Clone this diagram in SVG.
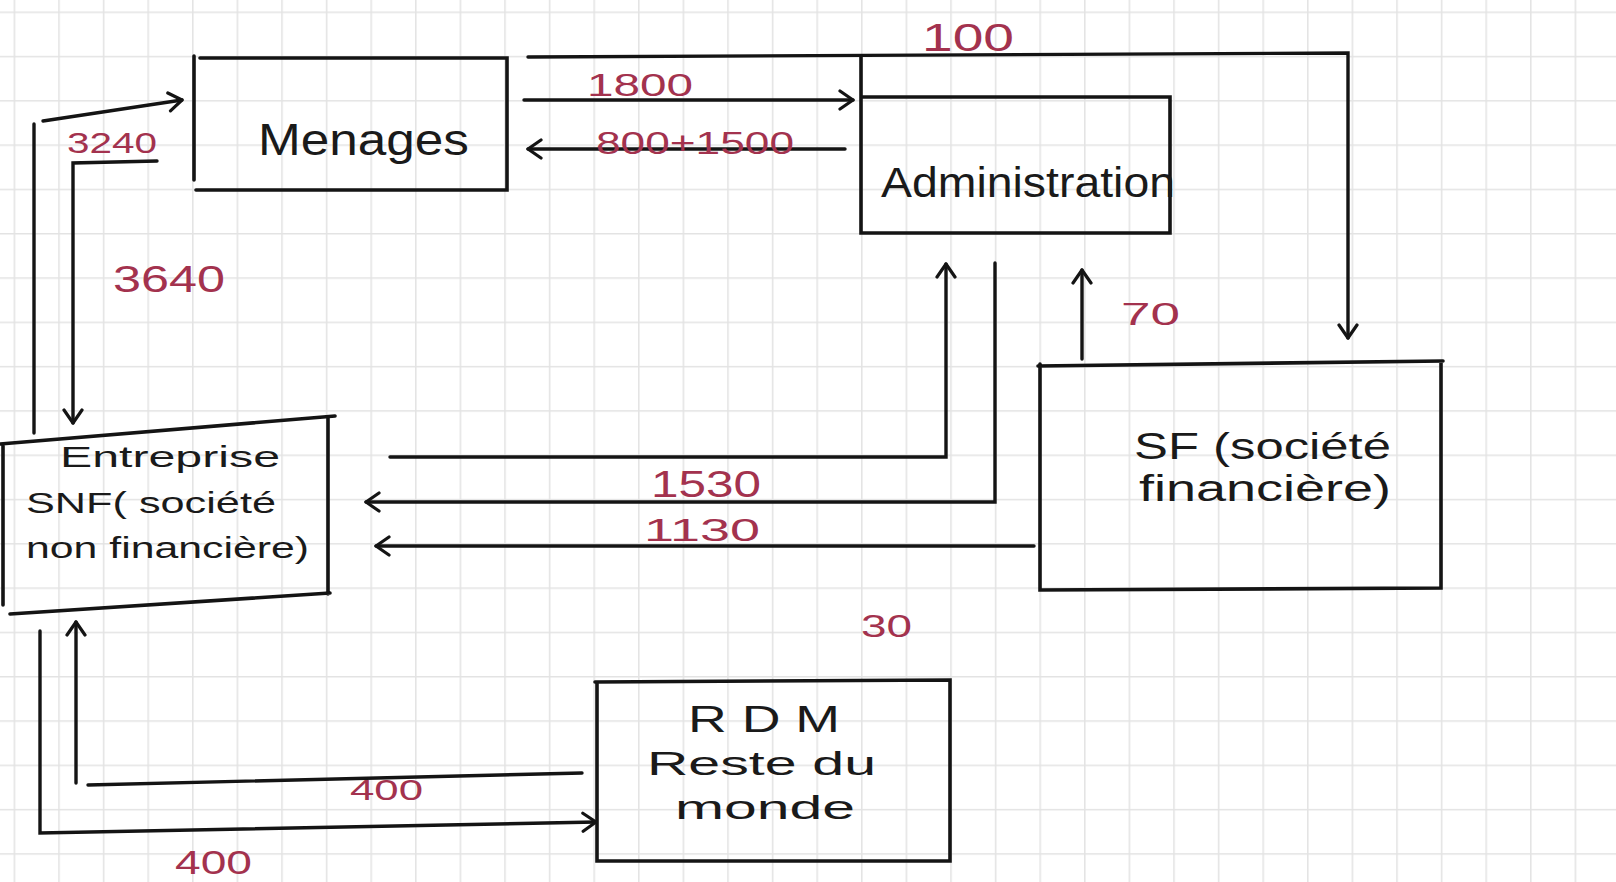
<svg xmlns="http://www.w3.org/2000/svg" width="1616" height="882" viewBox="0 0 1616 882">
<style>
.box{fill:none;stroke:#141414;stroke-width:3.6;stroke-linejoin:miter;stroke-linecap:round}
.con{fill:none;stroke:#141414;stroke-width:3.4;stroke-linecap:round;stroke-linejoin:miter}
.nt{font-family:"Liberation Sans",Arial,sans-serif;fill:#1a1a1a}
.lbl{font-family:"Liberation Sans",Arial,sans-serif;fill:#a3324e}
</style>
<defs>
<pattern id="grid" x="13.6" y="11.5" width="44.6" height="44.3" patternUnits="userSpaceOnUse">
<path d="M0.8,0 V44.3 M0,0.8 H44.6" fill="none" stroke="#e3e3e3" stroke-width="1.5"/>
</pattern>
<marker id="ah" viewBox="0 0 22 22" refX="18" refY="11" markerWidth="22" markerHeight="22" markerUnits="userSpaceOnUse" orient="auto">
<path d="M5,2 L18,11 L5,20" fill="none" stroke="#141414" stroke-width="3.2" stroke-linecap="round" stroke-linejoin="round"/>
</marker>
</defs>
<rect width="1616" height="882" fill="#ffffff"/>
<rect width="1616" height="882" fill="url(#grid)"/>

<g id="connectors">
<path class="con" d="M528,57 L1348,53 L1348,338" marker-end="url(#ah)"/>
<path class="con" d="M524,100 L853,100" marker-end="url(#ah)"/>
<path class="con" d="M845,149 L528,149" marker-end="url(#ah)"/>
<path class="con" d="M34,433 L34,124"/>
<path class="con" d="M43,121 L182,100" marker-end="url(#ah)"/>
<path class="con" d="M157,161 L73,163 L73,423" marker-end="url(#ah)"/>
<path class="con" d="M390,457 L946,457 L946,264" marker-end="url(#ah)"/>
<path class="con" d="M995,263 L995,502 L366,502" marker-end="url(#ah)"/>
<path class="con" d="M1034,546 L376,546" marker-end="url(#ah)"/>
<path class="con" d="M1082,359 L1082,270" marker-end="url(#ah)"/>
<path class="con" d="M582,773 L88,785"/>
<path class="con" d="M76,783 L76,622" marker-end="url(#ah)"/>
<path class="con" d="M40,631 L40,833 L596,822" marker-end="url(#ah)"/>
</g>

<g id="labels">
<text class="lbl" x="922" y="51" font-size="38" textLength="92" lengthAdjust="spacingAndGlyphs">100</text>
<text class="lbl" x="587" y="96" font-size="32" textLength="106" lengthAdjust="spacingAndGlyphs">1800</text>
<text class="lbl" x="596" y="154" font-size="32" textLength="198" lengthAdjust="spacingAndGlyphs">800+1500</text>
<text class="lbl" x="67" y="153" font-size="30" textLength="90" lengthAdjust="spacingAndGlyphs">3240</text>
<text class="lbl" x="113" y="292" font-size="36" textLength="112" lengthAdjust="spacingAndGlyphs">3640</text>
<text class="lbl" x="1121" y="325" font-size="32" textLength="59" lengthAdjust="spacingAndGlyphs">70</text>
<text class="lbl" x="651" y="497" font-size="36" textLength="110" lengthAdjust="spacingAndGlyphs">1530</text>
<text class="lbl" x="644" y="541" font-size="32" textLength="116" lengthAdjust="spacingAndGlyphs">1130</text>
<text class="lbl" x="861" y="637" font-size="32" textLength="51" lengthAdjust="spacingAndGlyphs">30</text>
<text class="lbl" x="350" y="800" font-size="30" textLength="73" lengthAdjust="spacingAndGlyphs">400</text>
<text class="lbl" x="175" y="874" font-size="34" textLength="77" lengthAdjust="spacingAndGlyphs">400</text>
</g>

<g id="menages">
<path class="box" d="M194,56 L194,180 M200,58 L507,58 L507,190 L196,190"/>
<text class="nt" x="258" y="155" font-size="44" textLength="211" lengthAdjust="spacingAndGlyphs">Menages</text>
</g>

<g id="administration">
<path class="box" d="M861,57 L861,233 L1170,233 L1170,97 L861,97"/>
<text class="nt" x="881" y="197" font-size="42" textLength="294" lengthAdjust="spacingAndGlyphs">Administration</text>
</g>

<g id="sf">
<path class="box" d="M1038,366 L1443,361 M1040,364 L1040,590 L1441,588 L1441,362"/>
<text class="nt" x="1134" y="459" font-size="36" textLength="257" lengthAdjust="spacingAndGlyphs">SF (société</text>
<text class="nt" x="1139" y="501" font-size="36" textLength="252" lengthAdjust="spacingAndGlyphs">financière)</text>
</g>

<g id="entreprise">
<path class="box" d="M0,444 L335,416 M328,418 L328,594 M10,614 L330,593 M3,444 L3,605"/>
<text class="nt" x="60" y="467" font-size="30" textLength="220" lengthAdjust="spacingAndGlyphs">Entreprise</text>
<text class="nt" x="26" y="513" font-size="30" textLength="250" lengthAdjust="spacingAndGlyphs">SNF( société</text>
<text class="nt" x="26" y="558" font-size="30" textLength="283" lengthAdjust="spacingAndGlyphs">non financière)</text>
</g>

<g id="rdm">
<path class="box" d="M595,682 L950,680 L950,861 L597,861 L597,682"/>
<text class="nt" x="688" y="732" font-size="36" textLength="152" lengthAdjust="spacingAndGlyphs">R D M</text>
<text class="nt" x="647" y="775" font-size="34" textLength="229" lengthAdjust="spacingAndGlyphs">Reste du</text>
<text class="nt" x="675" y="819" font-size="34" textLength="180" lengthAdjust="spacingAndGlyphs">monde</text>
</g>
</svg>
